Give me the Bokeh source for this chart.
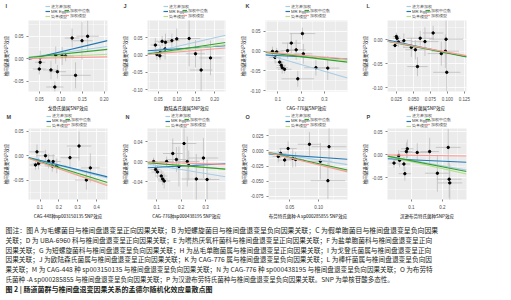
import numpy as np
from bokeh.plotting import figure
from bokeh.layouts import column, row
from bokeh.models import (FixedTicker, PrintfTickFormatter, Legend, LegendItem,
                          Label, Range1d)
from bokeh.embed import file_html
from bokeh.resources import INLINE

METHODS = ["逆方差加权", "MR Egger", "简单模型", "加权中位数", "加权模型"]
COLORS = ["#a6cee3", "#1f78b4", "#b2df8a", "#33a02c", "#fb9a99"]
Y_TITLE = "椎间盘退变SNP效应"

# ---- panel I ----
I_bx = [0.052, 0.052, 0.050, 0.077, 0.092, 0.088, 0.103, 0.111, 0.086, 0.134, 0.126, 0.149, 0.162]
I_by = [0.002, -0.008, -0.023, -0.025, -0.029, 0.008, 0.006, 0.006, -0.063, -0.037, 0.046, 0.040, 0.050]
I_sex = [0.014, 0.012, 0.015, 0.018, 0.020, 0.023, 0.025, 0.020, 0.020, 0.035, 0.017, 0.025, 0.026]
I_sey = [0.016, 0.010, 0.012, 0.021, 0.015, 0.019, 0.020, 0.012, 0.012, 0.029, 0.021, 0.042, 0.035]
I_slopes = [0.13, 0.23, 0.048, 0.10, 0.019]
I_egger_int = -0.0077

# ---- panel J ----
J_bx = [0.042, 0.046, 0.054, 0.055, 0.060, 0.069, 0.068, 0.086, 0.099, 0.132, 0.149, 0.189, 0.164]
J_by = [0.029, 0.002, -0.002, 0.008, 0.040, 0.037, 0.018, 0.042, 0.047, 0.048, 0.004, -0.008, -0.043]
J_sex = [0.012, 0.010, 0.012, 0.015, 0.020, 0.020, 0.018, 0.020, 0.025, 0.030, 0.025, 0.030, 0.030]
J_sey = [0.020, 0.015, 0.012, 0.020, 0.015, 0.025, 0.030, 0.020, 0.030, 0.080, 0.040, 0.050, 0.060]
J_slopes = [0.25, 0.07, 0.13, 0.16, 0.09]
J_egger_int = 0.011

# ---- panel K ----
K_bx = [0.077, 0.095, 0.088, 0.108, 0.115, 0.119, 0.129, 0.142, 0.158, 0.179, 0.206, 0.210, 0.186, 0.264, 0.315]
K_by = [-0.001, -0.002, -0.016, -0.028, -0.036, -0.042, -0.046, 0.001, 0.020, 0.003, 0.044, -0.007, -0.070, -0.042, -0.043]
K_sex = [0.030, 0.030, 0.025, 0.020, 0.020, 0.025, 0.030, 0.030, 0.040, 0.040, 0.055, 0.040, 0.070, 0.050, 0.050]
K_sey = [0.012, 0.010, 0.015, 0.010, 0.012, 0.015, 0.010, 0.020, 0.025, 0.025, 0.015, 0.025, 0.020, 0.020, 0.030]
K_slopes = [-0.17, -0.028, -0.06, -0.07, -0.05]
K_egger_int = -0.0087

# ---- panel L ----
L_bx = [0.025, 0.026, 0.023, 0.028, 0.036, 0.047, 0.053, 0.056, 0.060, 0.067, 0.079, 0.091, 0.098, 0.097, 0.099]
L_by = [0.0065, 0.003, -0.012, -0.005, -0.002, -0.016, -0.021, -0.056, 0.003, -0.004, 0.014, -0.029, 0.001, -0.024, -0.068]
L_sex = [0.005, 0.006, 0.005, 0.008, 0.012, 0.012, 0.015, 0.015, 0.020, 0.020, 0.015, 0.020, 0.025, 0.020, 0.020]
L_sey = [0.008, 0.008, 0.006, 0.010, 0.015, 0.020, 0.020, 0.020, 0.015, 0.030, 0.015, 0.025, 0.040, 0.035, 0.040]
L_slopes = [-0.27, -0.30, -0.27, -0.28, -0.26]
L_egger_int = 0.003

# ---- panel M ----
M_bx = [0.084, 0.092, 0.076, 0.129, 0.146, 0.170, 0.165, 0.189, 0.259, 0.307, 0.367, 0.346]
M_by = [0.008, -0.016, -0.019, 0.000, -0.011, -0.012, -0.021, -0.021, -0.004, 0.020, -0.025, -0.050]
M_sex = [0.040, 0.030, 0.030, 0.050, 0.040, 0.040, 0.040, 0.050, 0.050, 0.065, 0.050, 0.060]
M_sey = [0.015, 0.012, 0.010, 0.012, 0.015, 0.015, 0.012, 0.015, 0.020, 0.030, 0.030, 0.020]
M_slopes = [-0.10, -0.095, -0.13, -0.12, -0.135]
M_egger_int = 0.0

# ---- panel N ----
N_bx = [0.088, 0.096, 0.104, 0.119, 0.125, 0.131, 0.141, 0.166, 0.181, 0.191, 0.212, 0.225, 0.231, 0.291, 0.262, 0.306]
N_by = [0.000, -0.016, -0.021, -0.029, -0.035, -0.039, 0.000, 0.016, 0.004, -0.010, 0.036, 0.000, -0.008, 0.007, -0.035, -0.036]
N_sex = [0.020, 0.020, 0.025, 0.025, 0.020, 0.025, 0.030, 0.040, 0.040, 0.050, 0.050, 0.050, 0.040, 0.060, 0.060, 0.050]
N_sey = [0.008, 0.010, 0.012, 0.012, 0.012, 0.015, 0.010, 0.030, 0.025, 0.040, 0.040, 0.050, 0.030, 0.040, 0.050, 0.040]
N_slopes = [-0.08, 0.025, -0.04, -0.04, -0.015]
N_egger_int = -0.014

# ---- panel O ----
O_bx = [0.034, 0.030, 0.041, 0.047, 0.055, 0.060, 0.084, 0.103, 0.118, 0.116]
O_by = [-0.004, -0.009, -0.015, 0.004, -0.012, -0.014, 0.011, -0.017, 0.007, -0.049]
O_sex = [0.010, 0.010, 0.012, 0.015, 0.015, 0.015, 0.020, 0.020, 0.030, 0.030]
O_sey = [0.008, 0.010, 0.010, 0.012, 0.015, 0.012, 0.020, 0.030, 0.035, 0.030]
O_slopes = [-0.15, -0.065, -0.22, -0.21, -0.23]
O_egger_int = -0.004

# ---- panel P ----
P_bx = [0.044, 0.059, 0.062, 0.076, 0.084, 0.087, 0.079, 0.119, 0.159, 0.184, 0.219, 0.222, 0.224]
P_by = [-0.018, -0.002, -0.012, -0.020, 0.007, 0.013, -0.041, 0.005, 0.007, -0.040, 0.016, -0.053, -0.061]
P_sex = [0.015, 0.015, 0.020, 0.020, 0.020, 0.020, 0.020, 0.040, 0.030, 0.040, 0.040, 0.040, 0.040]
P_sey = [0.010, 0.012, 0.015, 0.015, 0.020, 0.020, 0.015, 0.020, 0.030, 0.040, 0.040, 0.040, 0.040]
P_slopes = [-0.12, -0.03, -0.15, -0.13, -0.01]
P_egger_int = -0.008

X_TITLES = {
    "I": "戈登氏菌属SNP效应",
    "J": "欧陆森氏菌属SNP效应",
    "K": "CAG-776属SNP效应",
    "L": "棒杆菌属SNP效应",
    "M": "CAG-448种sp003150135 SNP效应",
    "N": "CAG-776种sp000438195 SNP效应",
    "O": "布劳特氏菌种-A sp000285855 SNP效应",
    "P": "汉逊布劳特氏菌种SNP效应",
}

X_TICKS = {
    "I": [0.05, 0.10, 0.15, 0.20], "J": [0.05, 0.10, 0.15, 0.20],
    "K": [0.1, 0.2, 0.3], "L": [0.025, 0.050, 0.075, 0.100, 0.125],
    "M": [0.1, 0.2, 0.3, 0.4], "N": [0.1, 0.2, 0.3],
    "O": [0.05, 0.10], "P": [0.1, 0.2],
}
Y_TICKS = {
    "I": [-0.05, 0.0, 0.05], "J": [-0.10, -0.05, 0.0, 0.05],
    "K": [-0.10, -0.05, 0.0, 0.05], "L": [-0.10, -0.05, 0.0],
    "M": [-0.05, 0.0, 0.05], "N": [-0.04, 0.0, 0.04],
    "O": [-0.075, -0.050, -0.025, 0.0, 0.025], "P": [-0.05, 0.0, 0.05],
}

CAPTION = [
    "图注：图 A 为毛螺菌目与椎间盘退变呈正向因果关联；B 为短螺旋菌目与椎间盘退变呈负向因果关联；C 为假单胞菌目与椎间盘退变呈负向因果",
    "关联；D 为 UBA-6960 科与椎间盘退变呈正向因果关联；E 为嗜热厌氧杆菌科与椎间盘退变呈正向因果关联；F 为盐单胞菌科与椎间盘退变呈正向",
    "因果关联；G 为短螺旋菌科与椎间盘退变呈负向因果关联；H 为丛毛单胞菌属与椎间盘退变呈正向因果关联；I 为戈登氏菌属与椎间盘退变呈正向",
    "因果关联；J 为欧陆森氏菌属与椎间盘退变呈正向因果关联；K 为 CAG-776 属与椎间盘退变呈负向因果关联；L 为棒杆菌属与椎间盘退变呈负向因",
    "果关联；M 为 CAG-448 种 sp003150135 与椎间盘退变呈负向因果关联；N 为 CAG-776 种 sp000438195 与椎间盘退变呈负向因果关联；O 为布劳特",
    "氏菌种 -A sp000285855 与椎间盘退变呈负向因果关联；P 为汉逊布劳特氏菌种与椎间盘退变呈负向因果关联。SNP 为单核苷酸多态性。",
]
CAPTION_TITLE = "图 2 | 肠道菌群与椎间盘退变因果关系的孟德尔随机化效应量散点图"

DATA = {
    "I": (I_bx, I_by, I_sex, I_sey, I_slopes, I_egger_int),
    "J": (J_bx, J_by, J_sex, J_sey, J_slopes, J_egger_int),
    "K": (K_bx, K_by, K_sex, K_sey, K_slopes, K_egger_int),
    "L": (L_bx, L_by, L_sex, L_sey, L_slopes, L_egger_int),
    "M": (M_bx, M_by, M_sex, M_sey, M_slopes, M_egger_int),
    "N": (N_bx, N_by, N_sex, N_sey, N_slopes, N_egger_int),
    "O": (O_bx, O_by, O_sex, O_sey, O_slopes, O_egger_int),
    "P": (P_bx, P_by, P_sex, P_sey, P_slopes, P_egger_int),
}

# layout: (x range, y range, x fmt, y fmt, fig left, fig width, left border, right border)
LAYOUT = {
    "I": ((0.025, 0.208), (-0.073, 0.085), "%.2f", "%.2f", 0, 119, 20, 12),
    "J": ((0.021, 0.229), (-0.105, 0.100), "%.2f", "%.2f", 119, 118, 19, 12),
    "K": ((0.047, 0.400), (-0.102, 0.077), "%.1f", "%.2f", 237, 122, 23, 12),
    "L": ((0.012, 0.128), (-0.108, 0.040), "%.3f", "%.2f", 359, 152, 22, 45),
    "M": ((0.039, 0.458), (-0.090, 0.056), "%.1f", "%.2f", 0, 119, 21, 12),
    "N": ((0.063, 0.381), (-0.076, 0.066), "%.1f", "%.2f", 119, 118, 21, 12),
    "O": ((0.013, 0.150), (-0.080, 0.037), "%.2f", "%.3f", 237, 122, 23, 12),
    "P": ((0.023, 0.278), (-0.097, 0.057), "%.1f", "%.2f", 359, 152, 22, 45),
}

FONT = "Noto Sans CJK SC"


def minors(ticks):
    step = ticks[1] - ticks[0]
    return [ticks[0] - step / 2] + [t + step / 2 for t in ticks]


def make_panel(key, height, bottom):
    xr, yr, xfmt, yfmt, fx, width, left, right = LAYOUT[key]
    bx, by, sex, sey, slopes, eint = DATA[key]
    bx = np.array(bx); by = np.array(by); sex = np.array(sex); sey = np.array(sey)
    p = figure(width=width, height=height, x_range=Range1d(*xr), y_range=Range1d(*yr),
               output_backend="svg", toolbar_location=None, title_location=None,
               min_border_left=left, min_border_right=right,
               min_border_top=0, min_border_bottom=bottom)
    p.background_fill_color = "#EBEBEB"
    p.border_fill_color = "white"
    p.outline_line_color = None

    xt = X_TICKS[key]; yt = Y_TICKS[key]
    p.xaxis.ticker = FixedTicker(ticks=xt, minor_ticks=minors(xt))
    p.yaxis.ticker = FixedTicker(ticks=yt, minor_ticks=minors(yt))
    p.xaxis.formatter = PrintfTickFormatter(format=xfmt)
    p.yaxis.formatter = PrintfTickFormatter(format=yfmt)
    for g in (p.xgrid[0], p.ygrid[0]):
        g.grid_line_color = "white"
        g.grid_line_width = 0.8
        g.minor_grid_line_color = "white"
        g.minor_grid_line_width = 0.4
    p.xaxis.axis_label = X_TITLES[key]
    p.yaxis.axis_label = Y_TITLE
    for ax in (p.xaxis[0], p.yaxis[0]):
        ax.axis_line_color = None
        ax.major_tick_line_color = "#333333"
        ax.major_tick_line_width = 0.6
        ax.major_tick_out = 2
        ax.major_tick_in = 0
        ax.minor_tick_line_color = None
        ax.major_label_text_font_size = "4.5px"
        ax.major_label_text_color = "#4D4D4D"
        ax.major_label_text_font = "Liberation Sans"
        ax.major_label_standoff = 1
        ax.axis_label_text_font_size = "4.5px"
        ax.axis_label_text_font = FONT
        ax.axis_label_text_font_style = "normal"
        ax.axis_label_text_color = "black"
        ax.axis_label_standoff = 1

    p.segment(x0=bx - sex, y0=by, x1=bx + sex, y1=by, line_color="#BEBEBE", line_width=0.8)
    p.segment(x0=bx, y0=by - sey, x1=bx, y1=by + sey, line_color="#BEBEBE", line_width=0.8)
    p.scatter(bx, by, size=2.4, color="black")

    xs = np.array(xr)
    for k in range(5):
        inter = eint if k == 1 else 0.0
        p.line(xs, slopes[k] * xs + inter, line_color=COLORS[k], line_width=1.1)
    return p


def make_header(keys, height, letter_y, vy1, vy2):
    h = figure(width=511, height=height, x_range=Range1d(0, 1), y_range=Range1d(0, 1),
               output_backend="svg", toolbar_location=None, title_location=None,
               x_axis_type=None, y_axis_type=None, min_border=0)
    h.outline_line_color = None
    h.grid.visible = False
    h.background_fill_color = "white"
    h.border_fill_color = "white"
    # legend keys only (drawn off-range so that only the legend swatches show)
    keys_r = [h.line([5, 6], [5, 6], line_color=COLORS[k], line_width=1.2) for k in range(5)]
    common = dict(orientation="vertical", label_text_font_size="4.2px",
                  label_text_font="Liberation Sans",
                  glyph_width=5, glyph_height=4, label_height=4, label_width=10,
                  label_standoff=1, spacing=0, padding=0, margin=0,
                  background_fill_alpha=0, border_line_alpha=0)
    for key in keys:
        _, _, _, _, fx, _, left, _ = LAYOUT[key]
        frame_left = fx + left
        leg1 = Legend(items=[LegendItem(label=METHODS[i], renderers=[keys_r[i]]) for i in (0, 1, 2)],
                      location=(frame_left + 25, vy1), **common)
        leg2 = Legend(items=[LegendItem(label=METHODS[i], renderers=[keys_r[i]]) for i in (3, 4)],
                      location=(frame_left + 44, vy2), **common)
        h.add_layout(leg1)
        h.add_layout(leg2)
        h.add_layout(Label(x=frame_left - 15, y=letter_y, x_units="screen", y_units="screen",
                           text=key, text_font_size="5.5px", text_font_style="bold",
                           text_baseline="middle", text_font="Liberation Sans"))
    return h


head1 = make_header("IJKL", 20, 15, 1.5, 2.5)
row1 = row(*[make_panel(k, 93, 16) for k in "IJKL"], spacing=0)
head2 = make_header("MNOP", 15, 12, 0, 1.5)
row2 = row(*[make_panel(k, 93, 16) for k in "MNOP"], spacing=0)

cap_h = 79
cap = figure(width=511, height=cap_h, x_range=Range1d(0, 1), y_range=Range1d(0, 1),
             output_backend="svg", toolbar_location=None, title_location=None,
             x_axis_type=None, y_axis_type=None, min_border=0)
cap.outline_line_color = None
cap.grid.visible = False
cap.background_fill_color = "white"
centers = [8, 18, 28, 37.8, 47.6, 57.3, 67]
sizes = ["6.9px", "6.72px", "6.72px", "6.69px", "6.6px", "6.5px"]
for i, line in enumerate(CAPTION):
    cap.add_layout(Label(x=5, y=cap_h - centers[i], x_units="screen", y_units="screen",
                         text=line, text_font=FONT, text_font_size=sizes[i],
                         text_color="#231F20", text_baseline="middle"))
cap.add_layout(Label(x=5, y=cap_h - centers[6], x_units="screen", y_units="screen",
                     text=CAPTION_TITLE, text_font=FONT, text_font_size="7px",
                     text_font_style="bold", text_color="#231F20", text_baseline="middle"))

layout = column(head1, row1, head2, row2, cap, spacing=0)
open("out.html", "w").write(file_html(layout, INLINE))
